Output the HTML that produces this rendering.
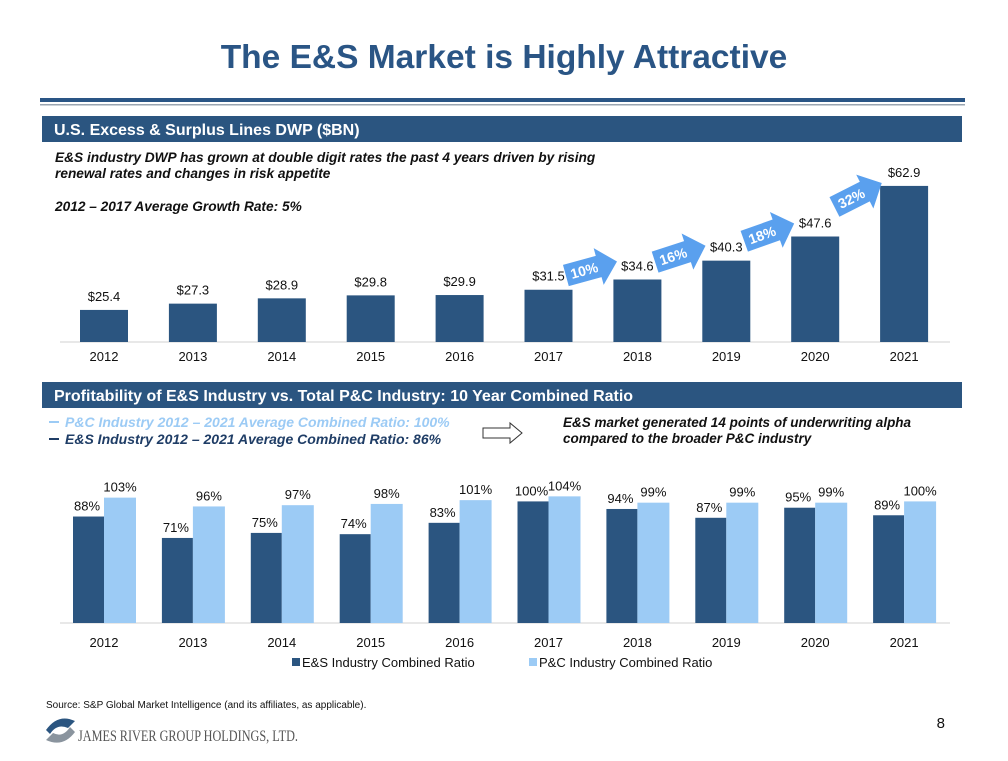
<!DOCTYPE html>
<html><head><meta charset="utf-8"><style>
body{margin:0;background:#fff;font-family:"Liberation Sans",Arial,sans-serif;}
svg text{font-family:"Liberation Sans",Arial,sans-serif;}
</style></head><body>
<svg id="s" width="1008" height="756" viewBox="0 0 1008 756" xmlns="http://www.w3.org/2000/svg">
<text x="504" y="68" text-anchor="middle" font-size="33.5" font-weight="bold" fill="#2a5585">The E&amp;S Market is Highly Attractive</text>
<rect x="40" y="98" width="925" height="4" fill="#2a5585"/>
<rect x="40" y="104" width="925" height="1.5" fill="#9aa5b1"/>
<rect x="42" y="116" width="920" height="26" fill="#2b5580"/>
<text x="54" y="135" font-size="16" font-weight="bold" fill="#fff">U.S. Excess &amp; Surplus Lines DWP ($BN)</text>
<text font-size="13.7" font-weight="bold" font-style="italic" fill="#111"><tspan x="55" y="162">E&amp;S industry DWP has grown at double digit rates the past 4 years driven by rising</tspan><tspan x="55" y="178">renewal rates and changes in risk appetite</tspan><tspan x="55" y="211">2012 – 2017 Average Growth Rate: 5%</tspan></text>
<g id="c1"></g>
<rect x="42" y="382" width="920" height="26" fill="#2b5580"/>
<text x="54" y="401" font-size="16" font-weight="bold" fill="#fff">Profitability of E&amp;S Industry vs. Total P&amp;C Industry: 10 Year Combined Ratio</text>
<line x1="49" y1="422" x2="59" y2="422" stroke="#9ccbf5" stroke-width="2"/>
<text x="65" y="427" font-size="14" font-weight="bold" font-style="italic" fill="#9ccbf5">P&amp;C Industry 2012 – 2021 Average Combined Ratio: 100%</text>
<line x1="49" y1="439" x2="59" y2="439" stroke="#1f3d66" stroke-width="2"/>
<text x="65" y="444" font-size="14" font-weight="bold" font-style="italic" fill="#1f3d66">E&amp;S Industry 2012 – 2021 Average Combined Ratio: 86%</text>
<path d="M483 428 H510 V423 L522 433 L510 443 V438 H483 Z" fill="#fff" stroke="#333" stroke-width="1"/>
<text font-size="13.5" font-weight="bold" font-style="italic" fill="#111"><tspan x="563" y="427">E&amp;S market generated 14 points of underwriting alpha</tspan><tspan x="563" y="443">compared to the broader P&amp;C industry</tspan></text>
<g id="c2"></g>
<text x="46" y="708" font-size="10" fill="#111">Source: S&amp;P Global Market Intelligence (and its affiliates, as applicable).</text>
<g>
<path d="M46 730 Q58 713 75 721 L68 728 Q57 723 50 734 Z" fill="#2b5580"/>
<path d="M75 732 Q63 748 46 740 L53 733 Q63 738 70 727 Z" fill="#8a949e"/>
<text x="78" y="741" font-size="16" fill="#555" textLength="220" lengthAdjust="spacingAndGlyphs" style="font-family:'Liberation Serif',serif">JAMES RIVER GROUP HOLDINGS, LTD.</text>
</g>
<text x="945" y="728" font-size="15" fill="#111" text-anchor="end">8</text>
</svg>
<script>
const years=["2012","2013","2014","2015","2016","2017","2018","2019","2020","2021"];
const dwp=[25.4,27.3,28.9,29.8,29.9,31.5,34.6,40.3,47.6,62.9];
const growth=["10%","16%","18%","32%"];
const esRatio=[88,71,75,74,83,100,94,87,95,89];
const pcRatio=[103,96,97,98,101,104,99,99,99,100];
const NS="http://www.w3.org/2000/svg";
function mk(p,t,a,txt){const e=document.createElementNS(NS,t);for(const k in a)e.setAttribute(k,a[k]);if(txt!=null)e.textContent=txt;p.appendChild(e);return e;}
const cx=i=>104+i*88.9;
const c1=document.getElementById('c1');
const y1=v=>342-(v-15.7)*3.307;
mk(c1,'line',{x1:60,y1:342,x2:950,y2:342,stroke:'#d0d0d0','stroke-width':1});
years.forEach((yr,i)=>{
 const b=mk(c1,'rect',{x:cx(i)-24,y:y1(dwp[i]),width:48,height:342-y1(dwp[i]),fill:'#2b5580'});
 
 
 const l=mk(c1,'text',{x:cx(i),y:y1(dwp[i])-9,'text-anchor':'middle','font-size':13,fill:'#111'},'$'+dwp[i].toFixed(1));
 
 
 const t=mk(c1,'text',{x:cx(i),y:361,'text-anchor':'middle','font-size':13,fill:'#111'},yr);
 
 
});
growth.forEach((g,k)=>{
 const i=5+k;
 const mx=(cx(i)+cx(i+1))/2-2, my=(y1(dwp[i])+y1(dwp[i+1]))/2-16;
 const ang=-Math.min(32,12+Math.atan2(y1(dwp[i])-y1(dwp[i+1]),88.9)*180/Math.PI*0.5);
 const gg=mk(c1,'g',{transform:`translate(${mx},${my}) rotate(${ang})`});
 
 
 mk(gg,'path',{d:'M-26 -11 H8 V-19 L27 0 L8 19 V11 H-26 Z',fill:'#5aa0ee'});
 mk(gg,'text',{x:-7,y:5,'text-anchor':'middle','font-size':14,'font-weight':'bold',fill:'#fff'},g);
});
const c2=document.getElementById('c2');
const y2=v=>623-(v-3.5)*1.26;
mk(c2,'line',{x1:60,y1:623,x2:950,y2:623,stroke:'#d0d0d0','stroke-width':1});
years.forEach((yr,i)=>{
 const a=mk(c2,'rect',{x:cx(i)-31,y:y2(esRatio[i]),width:31,height:623-y2(esRatio[i]),fill:'#2b5580'});
 
 
 const b=mk(c2,'rect',{x:cx(i),y:y2(pcRatio[i]),width:32,height:623-y2(pcRatio[i]),fill:'#9ccbf5'});
 
 
 const la=mk(c2,'text',{x:cx(i)-17,y:y2(esRatio[i])-6,'text-anchor':'middle','font-size':13,fill:'#111'},esRatio[i]+'%');
 
 
 const lb=mk(c2,'text',{x:cx(i)+16,y:y2(pcRatio[i])-6,'text-anchor':'middle','font-size':13,fill:'#111'},pcRatio[i]+'%');
 
 
 const t=mk(c2,'text',{x:cx(i),y:647,'text-anchor':'middle','font-size':13,fill:'#111'},yr);
 
 
});
const lg=mk(c2,'g',{});


mk(lg,'rect',{x:292,y:658,width:8,height:8,fill:'#2b5580'});
mk(lg,'text',{x:302,y:667,'font-size':13,fill:'#111'},'E&S Industry Combined Ratio');
mk(lg,'rect',{x:529,y:658,width:8,height:8,fill:'#9ccbf5'});
mk(lg,'text',{x:539,y:667,'font-size':13,fill:'#111'},'P&C Industry Combined Ratio');
</script>
</body></html>
